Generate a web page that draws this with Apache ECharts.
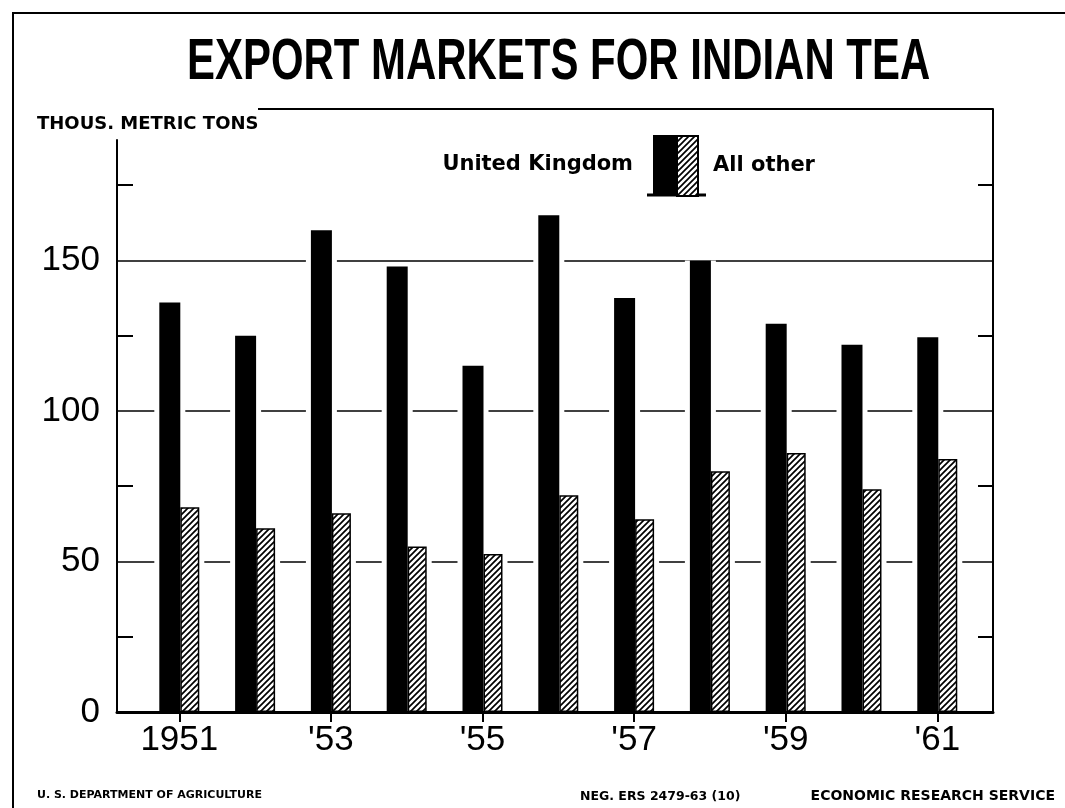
<!DOCTYPE html>
<html><head><meta charset="utf-8">
<script src="https://cdn.jsdelivr.net/npm/echarts@6/dist/echarts.min.js"></script>
<style>html,body{margin:0;padding:0;background:#fff}#c{width:1065px;height:808px}</style>
</head><body><div id="c"></div>
<script>
// ---- data ----
const years = [1951, 1952, 1953, 1954, 1955, 1956, 1957, 1958, 1959, 1960, 1961];
const unitedKingdom = [136, 125, 160, 148, 115, 165, 137.5, 150, 129, 122, 124.5];
const allOther = [68, 61, 66, 55, 52.5, 72, 64, 80, 86, 74, 84];
const labelYears = [1951, 1953, 1955, 1957, 1959, 1961];
const yearLabels = ['1951', "'53", "'55", "'57", "'59", "'61"];
const yLabelValues = [0, 50, 100, 150];
const yMinorTicks = [25, 75, 125, 175];

// ---- style ----
const INK = '#000';
const U = 21, O = 19, M = 5;
const haloGap = ((U / (U + 2 * M)) - 1) * 100 + '%';
const X_MIN = 1950.178, X_MAX = 1961.735;
const Y_MAX = 190, FRAME_MAX = 200.3;
const NUM_FONT = 'Liberation Sans';

function hatchCanvas() {
  const c = document.createElement('canvas');
  c.width = 6; c.height = 6;
  const g = c.getContext('2d');
  g.fillStyle = '#fff'; g.fillRect(0, 0, 6, 6);
  g.strokeStyle = INK; g.lineWidth = 1.7;
  g.beginPath();
  g.moveTo(-1, 7); g.lineTo(7, -1);
  g.moveTo(-1, 1); g.lineTo(1, -1);
  g.moveTo(5, 7); g.lineTo(7, 5);
  g.stroke();
  return c;
}
const hatch = { image: hatchCanvas(), repeat: 'repeat' };

const ukData = years.map((y, i) => [y, unitedKingdom[i]]);
const otherData = years.map((y, i) => [y, allOther[i]]);

const chart = echarts.init(document.getElementById('c'), null, { renderer: 'canvas' });
chart.setOption({
  backgroundColor: '#fff',
  animation: false,
  title: [
    { text: 'THOUS. METRIC TONS', left: 32, top: 110,
      textStyle: { fontFamily: 'DejaVu Sans', fontWeight: 'bold', fontSize: 18, color: INK } },
    { text: 'U. S. DEPARTMENT OF AGRICULTURE', left: 32, top: 785,
      textStyle: { fontFamily: 'DejaVu Sans', fontWeight: 'bold', fontSize: 11, color: INK } },
    { text: 'NEG. ERS 2479-63 (10)', left: 575, top: 785,
      textStyle: { fontFamily: 'DejaVu Sans', fontWeight: 'bold', fontSize: 12.5, color: INK } },
    { text: 'ECONOMIC RESEARCH SERVICE', right: 5, top: 784,
      textStyle: { fontFamily: 'DejaVu Sans', fontWeight: 'bold', fontSize: 14, color: INK } }
  ],
  legend: [
    { data: ['United Kingdom'], right: 389, top: 135, padding: 0, align: 'right',
      icon: 'rect', itemWidth: 23, itemHeight: 60, selectedMode: false,
      textStyle: { fontFamily: 'DejaVu Sans', fontWeight: 'bold', fontSize: 21, color: INK, padding: [0, 15, 0, 0] } },
    { data: ['All other'], left: 676, top: 135, padding: 0, align: 'left',
      icon: 'rect', itemWidth: 21, itemHeight: 60, selectedMode: false,
      textStyle: { fontFamily: 'DejaVu Sans', fontWeight: 'bold', fontSize: 21, color: INK, padding: [0, 0, 0, 10] } }
  ],
  grid: [
    { left: 117, right: 72, top: 140, bottom: 96, containLabel: false, outerBoundsMode: 'none' },
    { left: 117, right: 72, top: 109, bottom: 96, containLabel: false, outerBoundsMode: 'none' }
  ],
  xAxis: [
    { type: 'value', gridIndex: 0, min: X_MIN, max: X_MAX, z: 5,
      axisLine: { show: true, lineStyle: { color: INK, width: 3 } },
      axisTick: { show: true, customValues: labelYears, length: 10, lineStyle: { color: INK, width: 2 } },
      axisLabel: { show: true, customValues: labelYears, margin: 11, color: INK, fontFamily: NUM_FONT, fontSize: 35,
        formatter: v => yearLabels[labelYears.indexOf(Math.round(v))] },
      splitLine: { show: false } },
    { type: 'value', gridIndex: 0, min: X_MIN, max: X_MAX, show: false, splitLine: { show: false } },
    { type: 'value', gridIndex: 1, min: X_MIN, max: X_MAX, show: false, splitLine: { show: false } }
  ],
  yAxis: [
    { type: 'value', gridIndex: 0, min: 0, max: Y_MAX, z: 4,
      axisLine: { show: true, lineStyle: { color: INK, width: 2 } },
      axisTick: { show: true, inside: true, customValues: yMinorTicks, length: 16, lineStyle: { color: INK, width: 2 } },
      axisLabel: { show: true, customValues: yLabelValues, margin: 17, color: INK, fontFamily: NUM_FONT, fontSize: 35 },
      splitLine: { show: false } },
    { type: 'value', gridIndex: 1, min: 0, max: FRAME_MAX, position: 'right', z: 4,
      axisLine: { show: true, lineStyle: { color: INK, width: 2 } },
      axisTick: { show: true, inside: true, customValues: yMinorTicks, length: 15, lineStyle: { color: INK, width: 2 } },
      axisLabel: { show: false },
      splitLine: { show: false } },
    { type: 'value', gridIndex: 0, min: 0, max: Y_MAX, interval: 50, position: 'right', z: 0,
      axisLine: { show: false }, axisTick: { show: false }, axisLabel: { show: false },
      splitLine: { show: true, showMinLine: false, showMaxLine: false, lineStyle: { color: INK, width: 1.5 } } }
  ],
  series: [
    { type: 'bar', name: 'United Kingdom', xAxisIndex: 0, yAxisIndex: 0, data: ukData,
      barWidth: U, barGap: '0%', z: 3, itemStyle: { color: INK } },
    { type: 'bar', name: 'All other', xAxisIndex: 0, yAxisIndex: 0, data: otherData,
      barWidth: O, barGap: '0%', z: 3, itemStyle: { color: hatch, borderColor: INK, borderWidth: 1.5 } },
    { type: 'bar', name: 'halo1', xAxisIndex: 1, yAxisIndex: 0, data: ukData, silent: true,
      barWidth: U + 2 * M, barGap: haloGap, z: 2, itemStyle: { color: '#fff' } },
    { type: 'bar', name: 'halo2', xAxisIndex: 1, yAxisIndex: 0, data: otherData, silent: true,
      barWidth: O + 2 * M, barGap: haloGap, z: 2, itemStyle: { color: '#fff' } }
  ],
  graphic: [
    { type: 'text', silent: true, x: 187, y: 63, scaleX: 0.723,
      style: { text: 'EXPORT MARKETS FOR INDIAN TEA', font: 'bold 58px "Liberation Sans"', fill: INK,
        align: 'left', verticalAlign: 'middle' } },
    { type: 'polyline', silent: true, shape: { points: [[13, 808], [13, 13], [1065, 13]] },
      style: { stroke: INK, lineWidth: 2, fill: null } },
    { type: 'line', silent: true, shape: { x1: 258, y1: 109, x2: 993, y2: 109 },
      style: { stroke: INK, lineWidth: 2 } },
    { type: 'line', silent: true, shape: { x1: 647, y1: 195, x2: 706, y2: 195 },
      style: { stroke: INK, lineWidth: 3 } }
  ]
});
</script></body></html>
